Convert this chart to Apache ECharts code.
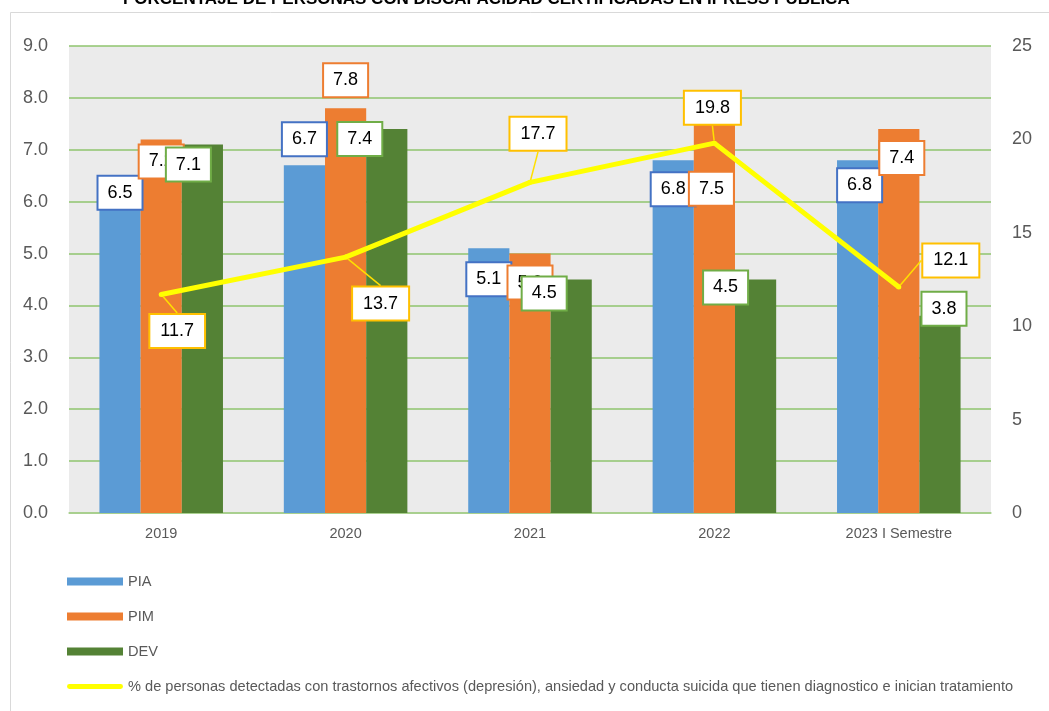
<!DOCTYPE html>
<html>
<head>
<meta charset="utf-8">
<script src="https://cdn.jsdelivr.net/npm/echarts@6/dist/echarts.min.js"></script>
<style>
  html, body { margin: 0; padding: 0; background: #fff; }
  #chart { width: 1049px; height: 711px; }
</style>
</head>
<body>
<div id="chart"></div>
<script>
const categories = ['2019', '2020', '2021', '2022', '2023 I Semestre'];
const pia = [6.5, 6.7, 5.1, 6.8, 6.8];
const pim = [7.2, 7.8, 5.0, 7.5, 7.4];
const dev = [7.1, 7.4, 4.5, 4.5, 3.8];
const pct = [11.7, 13.7, 17.7, 19.8, 12.1];
const lineName = '% de personas detectadas con trastornos afectivos (depresión), ansiedad y conducta suicida que tienen diagnostico e inician tratamiento';

// label nudges (pixels) so boxes sit like in the original
const piaOffsets = [[0, 1], [0, -42], [0, 15], [0, 13], [2, 9]];
const pimOffsets = [[0, 6], [0, -44], [0, 13], [-3, 49], [3, 13]];
const devOffsets = [[-14, 4], [-27, -6], [-27, -2], [-30, -8], [4, -23]];
const pctOffsets = [[16, 60], [35, 70], [8, -25], [-2, -12], [52, -3]];

const labelFont = 'Liberation Sans';
const axisFont = 'Liberation Sans Narrow, Liberation Sans, sans-serif';

const barSeries = (name, values, color, border, offsets) => ({
    name: name,
    type: 'bar',
    barGap: '0%',
    barCategoryGap: '33%',
    itemStyle: { color: color },
    data: values.map((v, i) => ({ value: v, label: { offset: offsets[i] } })),
    label: {
        show: true,
        position: 'insideTop',
        distance: 0,
        formatter: p => p.value.toFixed(1),
        fontFamily: labelFont,
        fontSize: 18,
        color: '#000',
        backgroundColor: '#fff',
        borderColor: border,
        borderWidth: 2,
        padding: [7, 9, 7, 9]
    }
});

const chart = echarts.init(document.getElementById('chart'));

chart.setOption({
    animation: false,
    backgroundColor: '#fff',
    title: {
        text: 'PORCENTAJE DE PERSONAS CON DISCAPACIDAD CERTIFICADAS EN IPRESS PÚBLICA',
        left: 118,
        top: -14,
        textStyle: { fontFamily: labelFont, fontSize: 17, fontWeight: 'bold', color: '#000' }
    },
    graphic: [{
        type: 'rect',
        silent: true,
        shape: { x: 10.5, y: 12.5, width: 1100, height: 800 },
        style: { fill: 'none', stroke: '#d9d9d9', lineWidth: 1 }
    }],
    grid: {
        left: 69, right: 58, top: 46, bottom: 198,
        show: true, backgroundColor: '#ebebeb', borderWidth: 0
    },
    legend: {
        orient: 'vertical',
        left: 62,
        top: 569,
        itemWidth: 56,
        itemHeight: 8,
        itemGap: 20,
        textStyle: { fontFamily: axisFont, fontSize: 14.6, color: '#595959' },
        data: [
            { name: 'PIA', icon: 'rect' },
            { name: 'PIM', icon: 'rect' },
            { name: 'DEV', icon: 'rect' },
            { name: lineName, icon: 'path://M2,0 L54,0 A2,2 0 0 1 54,5 L2,5 A2,2 0 0 1 2,0 Z', itemStyle: { color: '#ffff00' } }
        ]
    },
    xAxis: {
        type: 'category',
        data: categories,
        axisTick: { show: false },
        axisLine: { lineStyle: { color: '#a9cf8f', width: 1.5 } },
        axisLabel: { fontFamily: axisFont, fontSize: 14.5, color: '#595959', margin: 13 }
    },
    yAxis: [{
        type: 'value',
        min: 0, max: 9, interval: 1,
        axisLine: { show: false },
        axisTick: { show: false },
        axisLabel: { fontFamily: axisFont, fontSize: 18, color: '#595959', margin: 21, formatter: v => v.toFixed(1) },
        splitLine: { lineStyle: { color: '#8fc46e', width: 1.5 } }
    }, {
        type: 'value',
        min: 0, max: 25, interval: 5,
        axisLine: { show: false },
        axisTick: { show: false },
        axisLabel: { fontFamily: axisFont, fontSize: 18, color: '#595959', margin: 21 },
        splitLine: { show: false }
    }],
    series: [
        barSeries('PIA', pia, '#5b9bd5', '#4472c4', piaOffsets),
        barSeries('PIM', pim, '#ed7d31', '#ed7d31', pimOffsets),
        barSeries('DEV', dev, '#548235', '#70ad47', devOffsets),
        {
            name: lineName,
            type: 'line',
            yAxisIndex: 1,
            data: pct,
            z: 5,
            symbol: 'circle',
            symbolSize: 5,
            itemStyle: { color: '#ffff00' },
            lineStyle: { color: '#ffff00', width: 5 },
            label: {
                show: true,
                position: 'top',
                formatter: p => p.value.toFixed(1),
                fontFamily: labelFont,
                fontSize: 18,
                color: '#000',
                backgroundColor: '#fff',
                borderColor: '#ffc000',
                borderWidth: 2,
                padding: [7, 10, 7, 10]
            },
            labelLine: { show: true, lineStyle: { color: '#ffdf00', width: 1.5 } },
            labelLayout: p => ({ dx: pctOffsets[p.dataIndex][0], dy: pctOffsets[p.dataIndex][1] })
        }
    ]
});
</script>
</body>
</html>
